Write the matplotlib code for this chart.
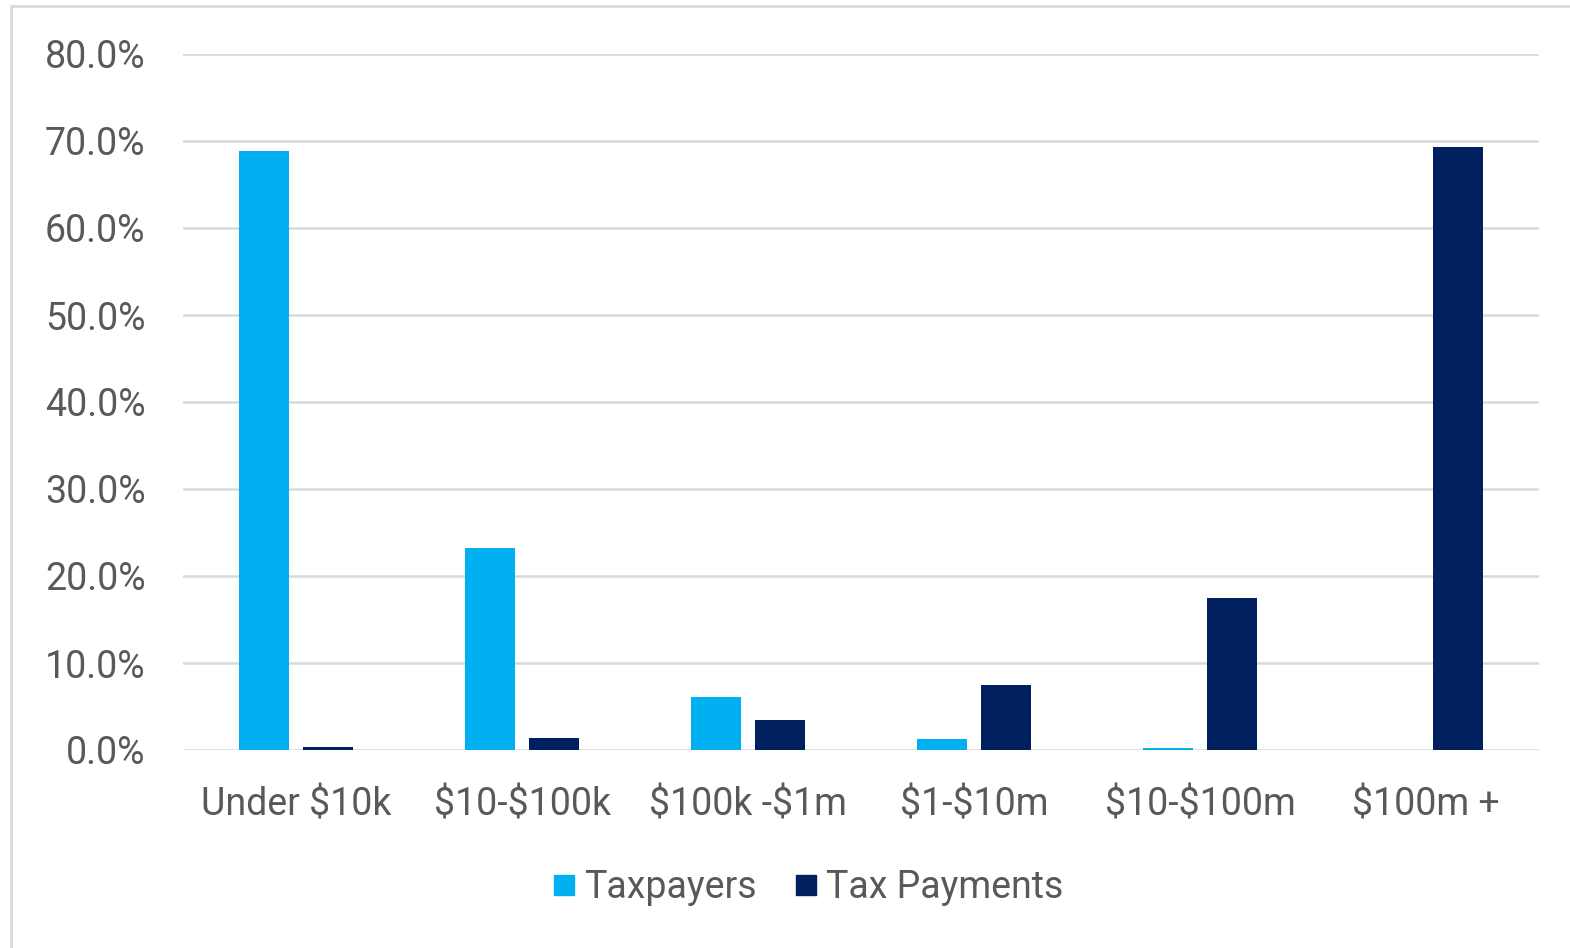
import matplotlib
matplotlib.use("Agg")
import matplotlib.pyplot as plt
import numpy as np
from matplotlib.lines import Line2D
from matplotlib.ticker import FuncFormatter

categories = ["Under $10k", "$10-$100k", "$100k -$1m", "$1-$10m", "$10-$100m", "$100m +"]
taxpayers = [68.8, 23.2, 6.1, 1.3, 0.2, 0.05]
tax_payments = [0.35, 1.4, 3.4, 7.5, 17.5, 69.3]
series_names = ["Taxpayers", "Tax Payments"]

light_blue = "#00B0F0"
navy = "#002060"
text_gray = "#595959"
grid_gray = "#D9D9D9"

plt.rcParams['font.family'] = ['Roboto', 'DejaVu Sans']
plt.rcParams['text.parse_math'] = False

fig = plt.figure(figsize=(15.7, 9.48), dpi=100)
ax = fig.add_axes([183 / 1570, 1 - 750 / 948, (1539 - 183) / 1570, (750 - 54) / 948])

x = np.arange(len(categories))
w = 0.22
off = 0.142
ax.bar(x - off, taxpayers, width=w, color=light_blue, label=series_names[0], zorder=3)
ax.bar(x + off, tax_payments, width=w, color=navy, label=series_names[1], zorder=3)

ax.set_xlim(-0.5, len(categories) - 0.5)
ax.set_ylim(0, 80)
ax.set_yticks(np.arange(0, 81, 10))
ax.yaxis.set_major_formatter(FuncFormatter(lambda v, p: f"{v:.1f}%"))
ax.set_xticks(x)
ax.set_xticklabels(categories)

ax.grid(axis="y", color=grid_gray, linewidth=1.8, zorder=0)
ax.set_axisbelow(True)
for s in ax.spines.values():
    s.set_visible(False)
ax.tick_params(axis="both", length=0, labelsize=27, labelcolor=text_gray)
ax.tick_params(axis="y", pad=27)
ax.tick_params(axis="x", pad=26)

# Outer chart frame (top and left edges)
fig.add_artist(Line2D([11 / 1570, 11 / 1570, 1.0], [0.0, 1 - 6 / 948, 1 - 6 / 948],
                      transform=fig.transFigure, color=grid_gray, linewidth=2))

handles = [Line2D([], [], marker="s", linestyle="none", markersize=15, color=light_blue),
           Line2D([], [], marker="s", linestyle="none", markersize=15, color=navy)]
fig.legend(handles, series_names, loc="center", bbox_to_anchor=(806 / 1570, 1 - 888 / 948),
           ncol=2, frameon=False, fontsize=27, labelcolor=text_gray,
           handletextpad=0.15, columnspacing=0.9, handlelength=0.8)

fig.savefig("out.png", dpi=100, facecolor="white")
